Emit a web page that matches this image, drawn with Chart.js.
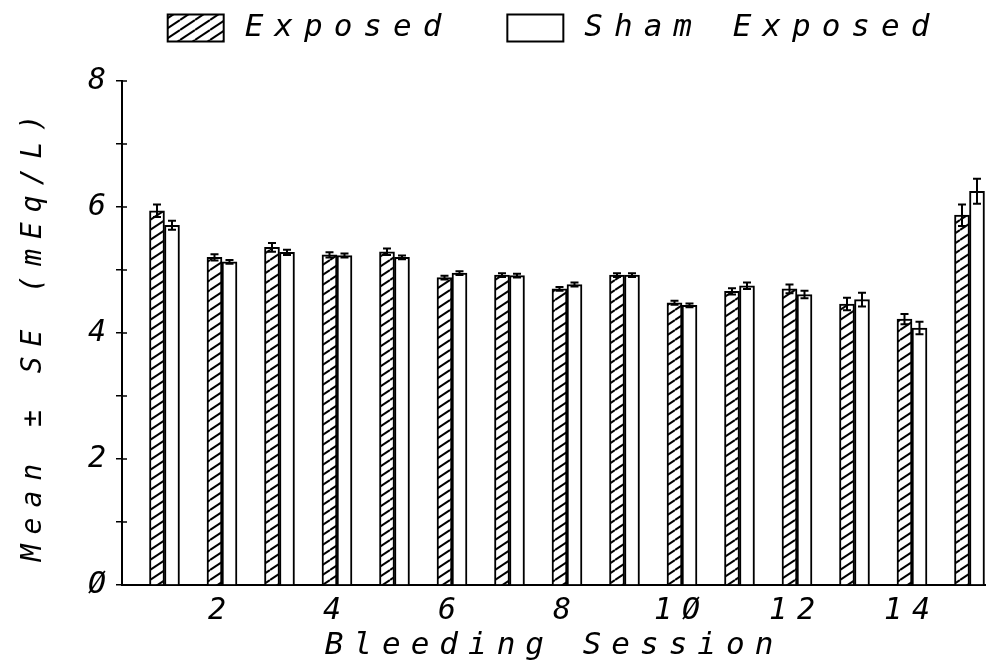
<!DOCTYPE html>
<html>
<head>
<meta charset="utf-8">
<script src="https://cdn.jsdelivr.net/npm/chart.js@4.4.0/dist/chart.umd.min.js"></script>
<style>
  html, body { margin: 0; padding: 0; background: #fff; }
</style>
</head>
<body>
<canvas id="chart" width="986" height="670"></canvas>
<script>
// bleeding sessions 1..15
const sessions = [1, 2, 3, 4, 5, 6, 7, 8, 9, 10, 11, 12, 13, 14, 15];
const exposedMean = [5.94, 5.20, 5.36, 5.24, 5.29, 4.88, 4.92, 4.70, 4.92, 4.48, 4.66, 4.70, 4.46, 4.22, 5.87];
const exposedSE   = [0.10, 0.05, 0.07, 0.04, 0.05, 0.03, 0.03, 0.03, 0.03, 0.03, 0.05, 0.07, 0.10, 0.08, 0.17];
const shamMean    = [5.71, 5.13, 5.28, 5.23, 5.20, 4.95, 4.91, 4.77, 4.92, 4.44, 4.75, 4.61, 4.53, 4.08, 6.25];
const shamSE      = [0.07, 0.03, 0.04, 0.03, 0.03, 0.03, 0.03, 0.03, 0.03, 0.03, 0.05, 0.06, 0.11, 0.10, 0.20];
const xTicks = [2, 4, 6, 8, 10, 12, 14];
const seriesLabels = ['Exposed', 'Sham Exposed'];
const axisTitles = { x: 'Bleeding Session', y: 'Mean \u00b1 SE (mEq/L)' };

const FONT = '"DejaVu Sans Mono", monospace';
const SPACING = '10px';
// plotter style slashed zero
const plotText = v => String(v).replace(/0/g, '\u00d8');

function hatch() {
  const w = 15, h = 10;
  const c = document.createElement('canvas');
  c.width = w; c.height = h;
  const g = c.getContext('2d');
  g.fillStyle = '#fff';
  g.fillRect(0, 0, w, h);
  g.strokeStyle = '#000';
  g.lineWidth = 2;
  for (let k = -1; k <= 1; k++) {
    g.beginPath();
    g.moveTo(0, h + k * h);
    g.lineTo(w, k * h);
    g.stroke();
  }
  return g.createPattern(c, 'repeat');
}

const spacingPlugin = {
  id: 'spacing',
  beforeUpdate(chart) { chart.ctx.letterSpacing = SPACING; },
  beforeDraw(chart) { chart.ctx.letterSpacing = SPACING; }
};

const errorBars = {
  id: 'errorBars',
  afterDatasetsDraw(chart) {
    const ctx = chart.ctx, y = chart.scales.y;
    const seSets = [exposedSE, shamSE];
    ctx.save();
    ctx.strokeStyle = '#000';
    ctx.lineWidth = 2;
    chart.data.datasets.forEach((ds, di) => {
      chart.getDatasetMeta(di).data.forEach((bar, i) => {
        const m = ds.data[i].y, se = seSets[di][i];
        const yt = y.getPixelForValue(m + se), yb = y.getPixelForValue(m - se);
        ctx.beginPath();
        ctx.moveTo(bar.x, yt); ctx.lineTo(bar.x, yb);
        ctx.moveTo(bar.x - 4, yt); ctx.lineTo(bar.x + 4, yt);
        ctx.moveTo(bar.x - 4, yb); ctx.lineTo(bar.x + 4, yb);
        ctx.stroke();
      });
    });
    ctx.restore();
  }
};

// inner half of the y ticks (they cross the axis)
const innerTicks = {
  id: 'innerTicks',
  afterDraw(chart) {
    const ctx = chart.ctx, y = chart.scales.y;
    ctx.save();
    ctx.strokeStyle = '#000';
    ctx.lineWidth = 1.5;
    y.ticks.forEach(t => {
      const py = y.getPixelForValue(t.value);
      ctx.beginPath();
      ctx.moveTo(y.right, py); ctx.lineTo(y.right + 5, py);
      ctx.stroke();
    });
    ctx.restore();
  }
};

const legendRow = {
  id: 'legendRow',
  afterDraw(chart) {
    const ctx = chart.ctx, area = chart.chartArea;
    ctx.save();
    ctx.letterSpacing = '11px';
    ctx.font = 'italic 31px ' + FONT;
    ctx.textBaseline = 'middle';
    ctx.textAlign = 'left';
    const boxW = 56, boxH = 27, gapText = 21, gapItem = 55, cy = 28;
    const items = chart.data.datasets.map(ds => ({ ds, w: ctx.measureText(ds.label).width }));
    const total = items.reduce((s, it) => s + boxW + gapText + it.w, 0) + gapItem * (items.length - 1);
    let x = (area.left + area.right) / 2 - total / 2;
    items.forEach(it => {
      ctx.fillStyle = it.ds.backgroundColor;
      ctx.fillRect(x, cy - boxH / 2, boxW, boxH);
      ctx.strokeStyle = '#000';
      ctx.lineWidth = 2;
      ctx.strokeRect(x, cy - boxH / 2, boxW, boxH);
      ctx.fillStyle = '#000';
      ctx.fillText(it.ds.label, x + boxW + gapText, cy);
      x += boxW + gapText + it.w + gapItem;
    });
    ctx.restore();
  }
};

const ctx = document.getElementById('chart').getContext('2d');
new Chart(ctx, {
  type: 'bar',
  data: {
    datasets: [
      {
        label: seriesLabels[0],
        data: sessions.map((s, i) => ({ x: s, y: exposedMean[i] })),
        backgroundColor: hatch(),
        borderColor: '#000',
        borderWidth: 2,
        barThickness: 15
      },
      {
        label: seriesLabels[1],
        data: sessions.map((s, i) => ({ x: s, y: shamMean[i] })),
        backgroundColor: '#fff',
        borderColor: '#000',
        borderWidth: 2,
        barThickness: 15
      }
    ]
  },
  options: {
    responsive: false,
    animation: false,
    layout: { padding: { top: 81, right: 0, bottom: 0, left: 0 } },
    plugins: {
      legend: { display: false },
      tooltip: { enabled: false }
    },
    scales: {
      x: {
        type: 'linear',
        offset: false,
        min: 0.261,
        max: 15.287,
        afterBuildTicks: scale => { scale.ticks = xTicks.map(v => ({ value: v })); },
        afterFit: scale => { scale.height = 85; },
        grid: { display: false, offset: false },
        border: { display: true, color: '#000', width: 2 },
        ticks: {
          autoSkip: false,
          maxRotation: 0,
          padding: 0,
          color: '#000',
          font: { family: FONT, size: 30, style: 'italic' },
          callback: v => plotText(v)
        },
        title: {
          display: true,
          text: axisTitles.x,
          color: '#000',
          font: { family: FONT, size: 31, style: 'italic' },
          padding: { top: 0, bottom: 5 }
        }
      },
      y: {
        min: 0,
        max: 8,
        afterFit: scale => { scale.width = 122; },
        grid: { drawOnChartArea: false, color: '#000', lineWidth: 1.5, tickLength: 6 },
        border: { display: true, color: '#000', width: 2 },
        ticks: {
          stepSize: 1,
          padding: 0,
          color: '#000',
          font: { family: FONT, size: 30, style: 'italic' },
          callback: v => (v % 2 === 0 ? plotText(v) : '')
        },
        title: {
          display: true,
          text: axisTitles.y,
          color: '#000',
          font: { family: FONT, size: 28, style: 'italic' },
          padding: { top: 17, bottom: 0 }
        }
      }
    }
  },
  plugins: [spacingPlugin, errorBars, innerTicks, legendRow]
});
</script>
</body>
</html>
